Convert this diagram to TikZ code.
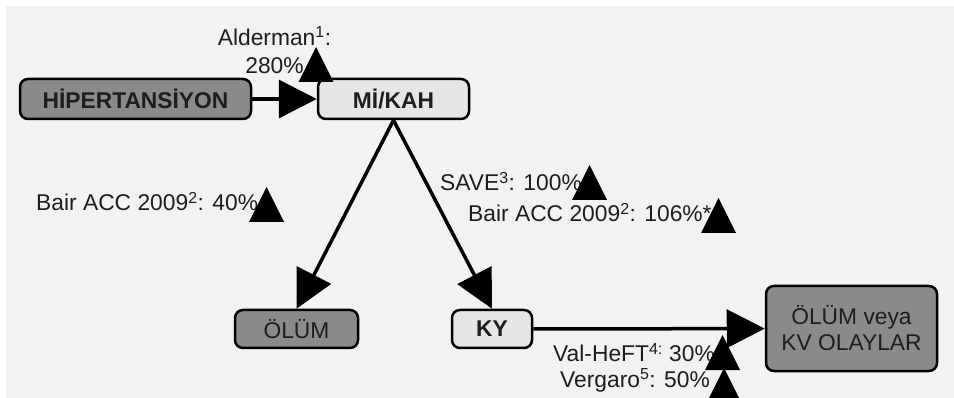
\documentclass[tikz,border=0pt]{standalone}
\usepackage{fontspec}
\setmainfont{Liberation Sans}
\definecolor{bggray}{RGB}{242,242,242}
\definecolor{boxdark}{RGB}{138,138,138}
\definecolor{boxlight}{RGB}{230,230,230}
\definecolor{inkgray}{RGB}{30,30,30}
\usetikzlibrary{arrows.meta}

\tikzset{
  upmark/.pic={\fill[black] (-17.5,0) -- (17.5,0) -- (0,-35) -- cycle;}
}

\begin{document}
\begin{tikzpicture}[x=1pt, y=-1pt,
  every node/.style={font=\fontsize{22.8}{28}\selectfont, text=inkgray},
  stepbox/.style={draw=black, line width=2.5pt, rounded corners=8pt, inner sep=0pt},
  note/.style={inner sep=0pt, anchor=base west},
  flow/.style={line width=3.5pt, -{Triangle[length=38pt, width=38pt]}}]

  % canvas
  \useasboundingbox (0,0) rectangle (954,398);
  \fill[white] (0,0) rectangle (954,398);
  \fill[bggray] (6,6) rectangle (954,398);
  \clip (0,0) rectangle (954,398);

  % boxes
  \node[stepbox, fill=boxdark, minimum width=231pt, minimum height=40pt, font=\fontsize{22.8}{28}\selectfont\bfseries] (hyp) at (135.5,99) {HİPERTANSİYON};
  \node[stepbox, fill=boxlight, minimum width=151pt, minimum height=40pt, font=\fontsize{22.8}{28}\selectfont\bfseries] (mikah) at (393.5,99) {Mİ/KAH};
  \node[stepbox, fill=boxdark, minimum width=123pt, minimum height=38pt] (olum) at (296.5,329) {ÖLÜM};
  \node[stepbox, fill=boxlight, minimum width=80pt, minimum height=38pt, font=\fontsize{22.8}{28}\selectfont\bfseries] (ky) at (492,329) {KY};
  \node[stepbox, fill=boxdark, minimum width=171pt, minimum height=85pt, align=center, font=\fontsize{22.8}{26}\selectfont] (kv) at (851.5,328.5) {ÖLÜM veya\\KV OLAYLAR};

  % arrows
  \draw[flow] (hyp) -- (mikah);
  \draw[flow] (mikah.south) -- (olum.north);
  \draw[flow] (mikah.south) -- (ky.north);
  \draw[flow] (ky) -- (kv);

  % study labels
  \node[inner sep=0pt, align=center] (ald) at (274.5,50) {Alderman\textsuperscript{1}:\\280\%};
  \node[note] (bair1) at (36,211) {Bair ACC 2009\textsuperscript{2}: 40\%};
  \node[note] (save) at (440,191) {SAVE\textsuperscript{3}: 100\%};
  \node[note] (bair2) at (468,222) {Bair ACC 2009\textsuperscript{2}: 106\%*};
  \node[note] (valheft) at (553,362) {Val-HeFT\textsuperscript{4:} 30\%};
  \node[note] (vergaro) at (560,387) {Vergaro\textsuperscript{5}: 50\%};

  % increase marks
  \pic at (316,82) {upmark};
  \pic at (266.5,222) {upmark};
  \pic at (589.5,200) {upmark};
  \pic at (718.5,233) {upmark};
  \pic at (722.5,370) {upmark};
  \pic at (724,403) {upmark};
\end{tikzpicture}
\end{document}
